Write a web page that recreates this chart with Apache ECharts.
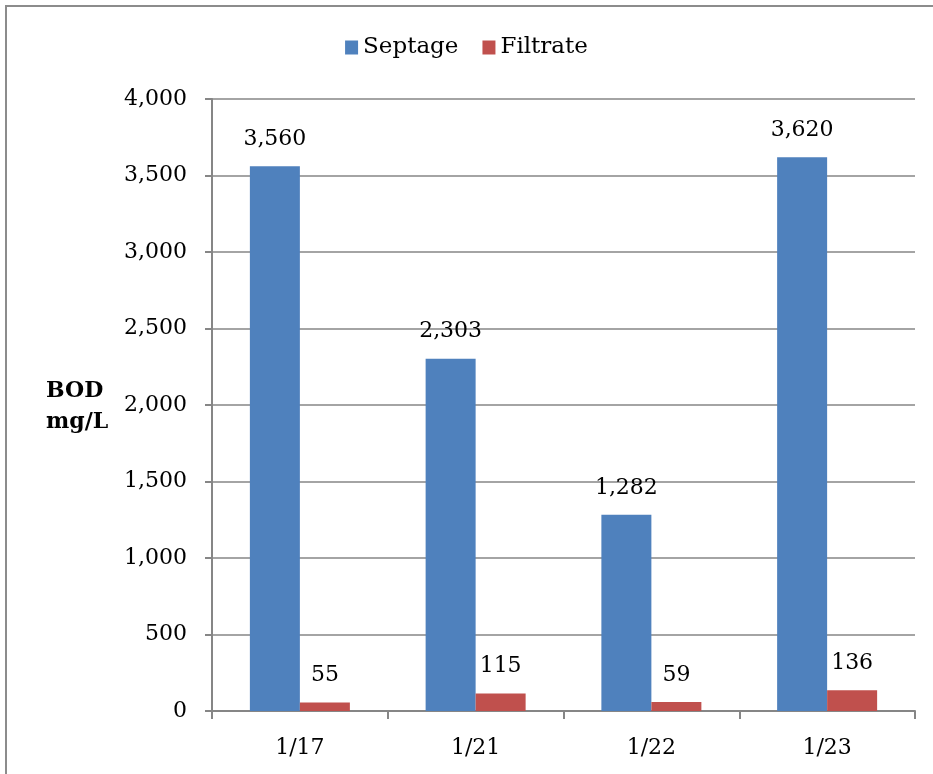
<!DOCTYPE html>
<html>
<head>
<meta charset="utf-8">
<script src="https://cdn.jsdelivr.net/npm/echarts@6/dist/echarts.min.js"></script>
<style>
  html, body { margin: 0; padding: 0; background: #ffffff; }
  #frame { position: absolute; left: 5px; top: 5px; width: 940px; height: 790px; border: 2px solid #8c8c8c; box-sizing: border-box; }
  #chart { position: absolute; left: 0; top: 0; width: 933px; height: 774px; }
</style>
</head>
<body>
<div id="frame"></div>
<div id="chart"></div>
<script>
// BOD by sampling date
const dates = ['1/17', '1/21', '1/22', '1/23'];
const septage = [3560, 2303, 1282, 3620];
const filtrate = [55, 115, 59, 136];

const serif = "'DejaVu Serif', 'Liberation Serif', serif";
const chart = echarts.init(document.getElementById('chart'));

const labelStyle = {
  show: true,
  position: 'top',
  distance: 16,
  color: '#000',
  fontFamily: serif,
  fontSize: 22,
  formatter: p => p.value.toLocaleString('en-US')
};

chart.setOption({
  animation: false,
  textStyle: { fontFamily: serif },
  legend: {
    top: 31,
    left: 'center',
    itemWidth: 13,
    itemHeight: 14,
    itemGap: 24,
    itemStyle: { borderWidth: 0 },
    icon: 'rect',
    textStyle: { fontFamily: serif, fontSize: 23, color: '#000', padding: [0, 0, 0, 0] },
    data: ['Septage', 'Filtrate']
  },
  grid: { left: 212, right: 18, top: 99, bottom: 63 },
  xAxis: {
    type: 'category',
    data: dates,
    axisLine: { lineStyle: { color: '#868686', width: 2 } },
    axisTick: { show: true, length: 8, lineStyle: { color: '#868686', width: 2 } },
    axisLabel: { color: '#000', fontFamily: serif, fontSize: 22, margin: 26 }
  },
  yAxis: {
    type: 'value',
    min: 0,
    max: 4000,
    interval: 500,
    axisLine: { show: true, lineStyle: { color: '#868686', width: 2 } },
    axisTick: { show: true, length: 7, lineStyle: { color: '#868686', width: 2 } },
    splitLine: { lineStyle: { color: '#868686', width: 1.5 } },
    axisLabel: {
      color: '#000', fontFamily: serif, fontSize: 22, margin: 25,
      formatter: v => v.toLocaleString('en-US')
    }
  },
  graphic: [{
    type: 'text',
    left: 46,
    top: 376,
    style: {
      text: 'BOD\nmg/L',
      fontFamily: serif,
      fontWeight: 'bold',
      fontSize: 22,
      lineHeight: 31,
      align: 'center',
      fill: '#000'
    }
  }],
  series: [
    {
      name: 'Septage',
      type: 'bar',
      data: septage,
      barWidth: 50,
      barGap: '0%',
      itemStyle: { color: '#4F81BD' },
      label: labelStyle
    },
    {
      name: 'Filtrate',
      type: 'bar',
      data: filtrate,
      barWidth: 50,
      itemStyle: { color: '#C0504D' },
      label: labelStyle
    }
  ]
});
</script>
</body>
</html>
